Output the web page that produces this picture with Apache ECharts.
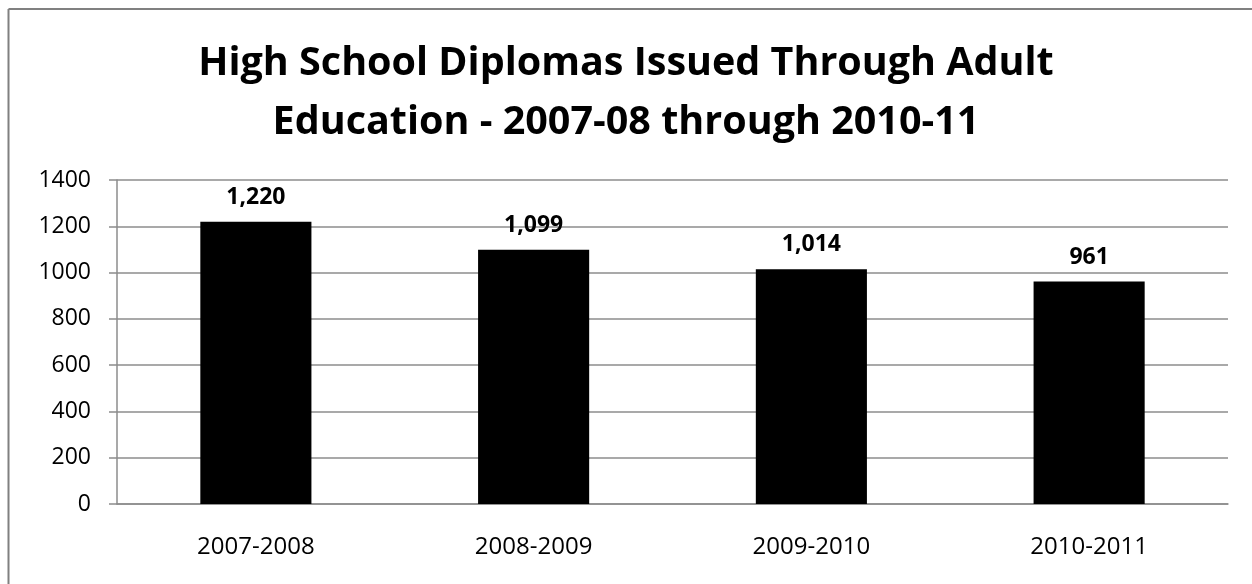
<!DOCTYPE html>
<html>
<head>
<meta charset="utf-8">
<script src="https://cdn.jsdelivr.net/npm/echarts@6/dist/echarts.min.js"></script>
<style>
html,body{margin:0;padding:0;background:#fff;}
#c{width:1252px;height:584px;}
</style>
</head>
<body>
<div id="c"></div>
<script>
const titleText = 'High School Diplomas Issued Through Adult\nEducation - 2007-08 through 2010-11';
const categories = ['2007-2008', '2008-2009', '2009-2010', '2010-2011'];
const diplomas = [1220, 1099, 1014, 961];
const yTicks = [0, 200, 400, 600, 800, 1000, 1200, 1400];

const chart = echarts.init(document.getElementById('c'));
const fontFam = '"Open Sans", "DejaVu Sans", sans-serif';
chart.setOption({
  animation: false,
  backgroundColor: '#fff',
  graphic: [
    { type: 'line', shape: { x1: 8.5, y1: 9, x2: 1252, y2: 9 }, style: { stroke: '#808080', lineWidth: 2 } },
    { type: 'line', shape: { x1: 8.5, y1: 9, x2: 8.5, y2: 584 }, style: { stroke: '#808080', lineWidth: 2 } }
  ],
  title: {
    text: titleText,
    left: 'center',
    top: 29,
    textStyle: {
      fontFamily: fontFam,
      fontWeight: 'bold',
      fontSize: 39.5,
      lineHeight: 59,
      color: '#000'
    }
  },
  grid: { left: 117, right: 24, top: 180, bottom: 80, containLabel: false },
  xAxis: {
    type: 'category',
    data: categories,
    axisLine: { lineStyle: { color: '#8c8c8c', width: 1.5 } },
    axisTick: { length: 9, lineStyle: { color: '#8c8c8c', width: 1.5 } },
    axisLabel: { fontFamily: fontFam, fontSize: 24, color: '#000', margin: 31 }
  },
  yAxis: {
    type: 'value',
    min: yTicks[0],
    max: yTicks[yTicks.length - 1],
    interval: 200,
    axisLine: { show: true, lineStyle: { color: '#8c8c8c', width: 1.5 } },
    axisTick: { show: true, length: 8, lineStyle: { color: '#8c8c8c', width: 1.5 } },
    splitLine: { lineStyle: { color: '#8c8c8c', width: 1.5 } },
    axisLabel: { fontFamily: fontFam, fontSize: 23, color: '#000', margin: 26, formatter: v => String(v) }
  },
  series: [{
    type: 'bar',
    data: diplomas,
    barCategoryGap: '60%',
    itemStyle: { color: '#000' },
    label: {
      show: true,
      position: 'top',
      distance: 13,
      fontFamily: fontFam,
      fontWeight: 'bold',
      fontSize: 23,
      color: '#000',
      formatter: p => p.value.toLocaleString('en-US')
    }
  }]
});
</script>
</body>
</html>
